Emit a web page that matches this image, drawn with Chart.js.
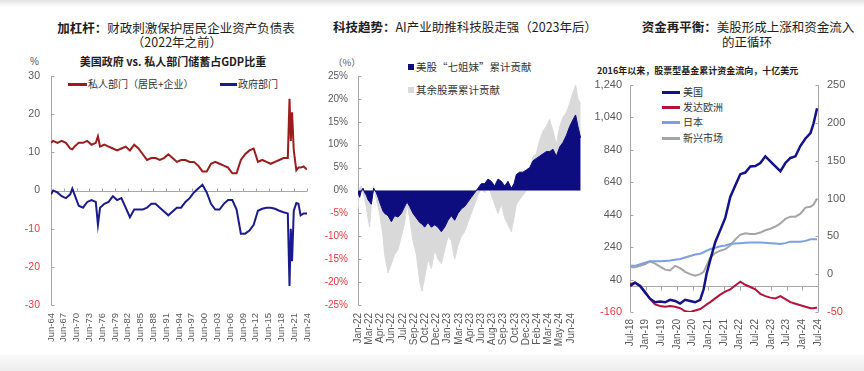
<!DOCTYPE html>
<html><head><meta charset="utf-8">
<script src="https://cdn.jsdelivr.net/npm/chart.js@4.4.1/dist/chart.umd.min.js"></script>
<style>
html,body{margin:0;padding:0;background:#fff;width:864px;height:371px;overflow:hidden;position:relative;font-family:"Liberation Sans","Noto Sans CJK SC",sans-serif;}
.topband{position:absolute;left:0;top:0;width:864px;height:7px;background:linear-gradient(#e2e2e2,#ffffff);}
.botband{position:absolute;left:0;top:355px;width:864px;height:16px;background:linear-gradient(#fafafa,#ececec);}
.box{position:absolute;}
.t{position:absolute;font-family:"Noto Sans CJK SC",sans-serif;color:#1e1e1e;white-space:nowrap;font-size:12.5px;line-height:15px;transform:translateX(-50%);}
.t b{font-weight:700;}
.s{position:absolute;font-family:"Noto Sans CJK SC",sans-serif;color:#1e1e1e;white-space:nowrap;font-weight:700;line-height:13px;}
.lg{position:absolute;font-family:"Noto Sans CJK SC",sans-serif;color:#333;white-space:nowrap;font-size:10px;line-height:12px;}
.ln{position:absolute;height:2.5px;}
.sq{position:absolute;width:6px;height:6px;}
.u{position:absolute;font-family:"Liberation Sans",sans-serif;color:#595959;font-size:10px;line-height:12px;white-space:nowrap;}
</style></head>
<body>
<div class="topband"></div>
<div class="botband"></div>

<div class="t" style="left:176px;top:20px;"><b>加杠杆：</b>财政刺激保护居民企业资产负债表</div>
<div class="t" style="left:177px;top:34px;">（2022年之前）</div>
<div class="s" style="left:173px;top:55px;font-size:11px;transform:translateX(-50%);">美国政府 vs. 私人部门储蓄占GDP比重</div>
<div class="u" style="left:30px;top:56px;">%</div>
<div class="ln" style="left:68px;top:83px;width:19px;background:#9b1c1c;"></div>
<div class="lg" style="left:88px;top:78px;">私人部门（居民+企业）</div>
<div class="ln" style="left:220px;top:83px;width:17px;background:#1a1a8f;"></div>
<div class="lg" style="left:238px;top:78px;">政府部门</div>

<div class="t" style="left:465px;top:19px;"><b>科技趋势：</b>AI产业助推科技股走强（2023年后）</div>
<div class="u" style="left:333px;top:56px;font-family:'Noto Sans CJK SC';font-size:9.5px;">（%）</div>
<div class="sq" style="left:408px;top:64px;background:#0d0d80;"></div>
<div class="lg" style="left:416px;top:61px;font-size:10.5px;">美股“七姐妹”累计贡献</div>
<div class="sq" style="left:408px;top:87px;background:#d9d9d9;"></div>
<div class="lg" style="left:416px;top:84px;font-size:10.5px;">其余股票累计贡献</div>

<div class="t" style="left:748px;top:19px;"><b>资金再平衡：</b>美股形成上涨和资金流入</div>
<div class="t" style="left:747px;top:34px;">的正循环</div>
<div class="s" style="left:597px;top:64px;font-size:9px;">2016年以来，股票型基金累计资金流向，十亿美元</div>
<div class="ln" style="left:662px;top:91px;width:18px;background:#12128a;"></div>
<div class="lg" style="left:683px;top:86px;">美国</div>
<div class="ln" style="left:662px;top:106px;width:18px;background:#b5123b;"></div>
<div class="lg" style="left:683px;top:101px;">发达欧洲</div>
<div class="ln" style="left:662px;top:121px;width:18px;background:#7b9fe0;"></div>
<div class="lg" style="left:683px;top:116px;">日本</div>
<div class="ln" style="left:662px;top:137px;width:18px;background:#a5a5a5;"></div>
<div class="lg" style="left:683px;top:132px;">新兴市场</div>

<div class="box" style="left:0px;top:70px;width:312px;height:280px;"><canvas id="c1" width="312" height="280"></canvas></div>
<div class="box" style="left:310px;top:70px;width:280px;height:280px;"><canvas id="c2" width="280" height="280"></canvas></div>
<div class="box" style="left:590px;top:78px;width:274px;height:272px;"><canvas id="c3" width="274" height="272"></canvas></div>

<script>
// ---------- Panel 1: US government vs private sector savings (% of GDP) ----------
const p1Years = [1964.5,1965,1966,1967,1968,1969,1969.5,1970,1971,1972,1973,1974,1975,1975.5,
  1976,1977,1978,1979,1980,1981,1982,1983,1984,1985,1986,1987,1988,1989,1990,1991,1992,1993,1994,1995,
  1996,1997,1998,1999,2000,2001,2002,2003,2004,2005,2006,2007,2008,2009,2010,2011,2012,2013,2014,2015,
  2016,2017,2018,2019,2020,2020.4,2020.7,2021,2021.4,2022,2022.5,2023,2023.7,2024.5];
const p1Private = [12.5,13,12.5,13,12.5,11,10.8,11.5,12.5,12.5,13,12,12.5,14.2,
  11.5,12,11.5,11,10.5,11,11.5,10.5,12,11,9.5,8,8.5,8.5,8,8.5,9.5,8.5,7.5,8,
  8,7.5,7.5,6.5,5,5,7,7.5,7,6.5,6,4.5,4.5,8,9.5,10.5,11,7.5,8,7.5,
  7,7.5,8,8.5,8.5,24,13,20.5,10.5,5.3,6,6,6.3,5.5];
const p1Gov = [-1,0,-0.5,-1.5,-2,-1,0.5,-1,-4,-4.5,-3,-2.5,-3,-9,
  -4.5,-3.5,-3,-1.5,-2.5,-2,-4.5,-7,-5,-5,-5,-4.5,-3.5,-3.5,-4.5,-5.5,-6.5,-5.5,-4.5,-4.5,
  -3,-2,-0.5,0.5,1.5,-0.5,-3.5,-5,-5,-3.5,-2.5,-2.5,-5,-11.3,-11.3,-10.5,-9,-5.3,-4.8,-4.5,
  -4.5,-4.8,-5.3,-5.7,-6,-25,-10,-18.5,-5.3,-3.3,-3.5,-6.5,-6,-6];
const p1TickYears = [1964.5,1967.5,1970.5,1973.5,1976.5,1979.5,1982.5,1985.5,1988.5,1991.5,1994.5,
  1997.5,2000.5,2003.5,2006.5,2009.5,2012.5,2015.5,2018.5,2021.5,2024.5];
const p1TickLabels = ['Jun-64','Jun-67','Jun-70','Jun-73','Jun-76','Jun-79','Jun-82','Jun-85','Jun-88','Jun-91','Jun-94',
  'Jun-97','Jun-00','Jun-03','Jun-06','Jun-09','Jun-12','Jun-15','Jun-18','Jun-21','Jun-24'];

// ---------- Panel 2: cumulative contribution, Magnificent 7 vs rest (%) ----------
const p2X = [0,0.15,0.30,0.45,0.60,0.74,0.89,1.04,1.19,1.40,1.64,1.79,1.93,2.08,2.23,2.38,2.68,2.98,3.27,3.57,
  3.87,4.17,4.38,4.61,4.91,5.21,5.51,5.71,5.95,6.25,6.55,6.85,7.14,7.44,7.74,8.04,8.33,8.63,8.93,9.23,
  9.52,9.82,10.12,10.42,10.71,11.01,11.31,11.61,11.90,12.20,12.50,12.80,13.10,13.39,13.69,13.93,14.14,14.43,14.73,15.03,
  15.33,15.63,15.92,16.22,16.52,16.82,17.11,17.41,17.71,18.01,18.30,18.60,18.90,19.20,19.43,19.64,19.88];
const p2Mag7 = [-0.5,-1.5,0,0.5,-0.5,-1,-2,-2.5,-3,0.5,-0.5,-1.5,-2.5,-3.5,-4.5,-5,-5.5,-6.8,-5.5,-5.8,
  -5,-3.5,-2.5,-3.5,-5,-6,-7,-7.3,-8,-7,-8,-7.5,-8,-9,-8,-6.5,-5.5,-6.5,-5,-4,
  -3.5,-2.5,-1.5,-0.5,0.5,1.5,1.5,2.5,2,1,2.5,2,1,2,0.5,1.5,3.5,4,4,4.5,
  5,6.5,7,7.5,8,8.5,8.5,9,7.5,9.5,10.5,12,14,15.5,16.5,14,11.5];
const p2Rest = [-4,0.5,1,-0.5,-2,-3.5,-6,-8,-3,1,-2,-3.5,-5,-7.5,-10,-14,-18,-16,-14,-13,
  -10,-7,-3,-6,-11,-14,-20,-22,-19,-15,-17,-13,-15,-16,-13,-10,-11,-15,-12,-10,
  -9,-7,-5,-3,-1,0.5,-0.5,1.5,-1,-3,-5,-3,-6,-7.5,-9,-6,-3,-2,-1,0,
  4,7.5,8,11,13,14,15.5,13,10,14,16,17,19,21.5,23,20,19];
const p2TickLabels = ['Jan-22','Mar-22','Apr-22','Jun-22','Jul-22','Sep-22','Oct-22','Dec-22','Jan-23','Mar-23',
  'Apr-23','Jun-23','Aug-23','Sep-23','Oct-23','Dec-23','Feb-24','Mar-24','May-24','Jun-24'];

// ---------- Panel 3: cumulative equity fund flows, bn USD ----------
const p3Dates = [2018.50,2018.66,2018.82,2018.98,2019.14,2019.30,2019.46,2019.62,2019.78,2019.94,
  2020.10,2020.26,2020.42,2020.58,2020.74,2020.85,2020.95,2021.06,2021.22,2021.38,
  2021.54,2021.70,2021.86,2022.02,2022.18,2022.34,2022.50,2022.66,2022.82,2022.98,
  2023.14,2023.30,2023.46,2023.62,2023.78,2023.94,2024.10,2024.26,2024.36,2024.47];
const p3US = [0,20,0,-40,-78,-100,-95,-100,-85,-92,-108,-85,-92,-100,-85,-20,80,160,270,345,
  420,550,620,690,700,738,740,759,800,769,738,708,759,790,800,865,910,943,1004,1097];
const p3Europe = [-13,-11,-15,-23,-33,-40,-42,-43,-42,-43,-45,-49,-50,-48,-46,-43,-40,-37,-32,-27,
  -23,-20,-15,-10,-14,-17,-20,-26,-29,-31,-32,-29,-33,-37,-39,-41,-43,-45,-45,-44];
const p3Japan = [11,11,13,15,17,17,17,17.5,18,19,20,22,24,26,27,29,31,33,35,37,
  38,40,40.5,41,41.5,42,42,42,41.5,41,40.5,40,41,43,43,43,44,46,46,46];
const p3EM = [9,9,11,13,17,14,10,6,5,11,8,3,0,-2,0,3,12,22,28,31,
  33,38,46,52,54,53,53,55,58,60,63,67,73,76,76,80,88,89,92,100];
const p3TickDates = [2018.5,2019,2019.5,2020,2020.5,2021,2021.5,2022,2022.5,2023,2023.5,2024,2024.5];
const p3TickLabels = ['Jul-18','Jan-19','Jul-19','Jan-20','Jul-20','Jan-21','Jul-21','Jan-22','Jul-22','Jan-23','Jul-23','Jan-24','Jul-24'];
const p3LeftTicks = [-160,40,240,440,640,840,1040,1240];
const p3LeftLabels = ['-160','40','240','440','640','840','1,040','1,240'];

const GREY = '#595959', RED = '#e5393f', AX = '#a6a6a6';
Chart.defaults.font.family = 'Liberation Sans';
Chart.defaults.animation = false;

const axisDeco = {
  id: 'axisDeco',
  beforeDatasetsDraw(chart, args, o) {
    const ctx = chart.ctx, a = chart.chartArea;
    ctx.save(); ctx.lineWidth = 1; ctx.strokeStyle = AX;
    (o.yAxes || []).forEach(id => {
      const s = chart.scales[id];
      const right = s.position === 'right';
      const x = Math.round(right ? a.right : a.left) + 0.5;
      const d = right ? -3 : 3;
      ctx.beginPath(); ctx.moveTo(x, a.top); ctx.lineTo(x, a.bottom);
      s.ticks.forEach(t => { const y = Math.round(s.getPixelForValue(t.value)) + 0.5; ctx.moveTo(x, y); ctx.lineTo(x + d, y); });
      ctx.stroke();
    });
    if (o.zero) {
      const s = chart.scales[o.zero.scale], xs = chart.scales.x;
      const y = Math.round(s.getPixelForValue(0)) + 0.5;
      ctx.beginPath(); ctx.moveTo(a.left, y); ctx.lineTo(a.right, y);
      xs.ticks.forEach(t => { const x = Math.round(xs.getPixelForValue(t.value)) + 0.5; ctx.moveTo(x, y); ctx.lineTo(x, y + o.zero.tick); });
      ctx.stroke();
    }
    ctx.restore();
  }
};

const pts = (xs, ys) => xs.map((x, i) => ({x: x, y: ys[i]}));
const tickColor = c => (c.tick && c.tick.value < 0) ? RED : GREY;
const fitH = h => s => { s.height = h; s.paddingLeft = 0; s.paddingRight = 0; s.paddingTop = 0; s.paddingBottom = 0; };
const fitW = w => s => { s.width = w; s.paddingLeft = 0; s.paddingRight = 0; s.paddingTop = 0; s.paddingBottom = 0; };
const setTicks = arr => s => { s.ticks = arr.map(v => ({value: v})); };

// Panel 1
new Chart(document.getElementById('c1'), {
  type: 'line',
  data: { datasets: [
    { label: '私人部门（居民+企业）', data: pts(p1Years, p1Private), borderColor: '#9b1c1c', borderWidth: 2, pointRadius: 0, tension: 0, fill: false },
    { label: '政府部门', data: pts(p1Years, p1Gov), borderColor: '#1a1a8f', borderWidth: 2, pointRadius: 0, tension: 0, fill: false }
  ]},
  options: {
    responsive: false, devicePixelRatio: 1,
    layout: { padding: { left: 0, right: 5, top: 6, bottom: 0 } },
    plugins: { legend: { display: false }, tooltip: { enabled: false }, axisDeco: { yAxes: ['y'], zero: { scale: 'y', tick: -3 } } },
    scales: {
      x: { type: 'linear', min: 1964.5, max: 2024.5,
        afterBuildTicks: setTicks(p1TickYears), afterFit: fitH(45),
        grid: { display: false, drawTicks: false }, border: { display: false },
        ticks: { autoSkip: false, minRotation: 90, maxRotation: 90, padding: 8, color: GREY, font: { size: 9.5 },
          callback: (v, i) => p1TickLabels[i] } },
      y: { min: -30, max: 30,
        afterBuildTicks: setTicks([-30,-20,-10,0,10,20,30]), afterFit: fitW(51),
        grid: { display: false, drawTicks: false }, border: { display: false },
        ticks: { padding: 11, color: tickColor, font: { size: 10.5 } } }
    }
  },
  plugins: [axisDeco]
});

// Panel 2
new Chart(document.getElementById('c2'), {
  type: 'line',
  data: { datasets: [
    { label: '美股“七姐妹”累计贡献', data: pts(p2X, p2Mag7), borderColor: '#0d0d80', backgroundColor: '#0d0d80', borderWidth: 1, pointRadius: 0, tension: 0, fill: 'origin' },
    { label: '其余股票累计贡献', data: pts(p2X, p2Rest), borderColor: '#d9d9d9', backgroundColor: '#d9d9d9', borderWidth: 1, pointRadius: 0, tension: 0, fill: 'origin' }
  ]},
  options: {
    responsive: false, devicePixelRatio: 1,
    layout: { padding: { left: 0, right: 8, top: 6, bottom: 0 } },
    plugins: { legend: { display: false }, tooltip: { enabled: false }, axisDeco: { yAxes: ['y'] } },
    scales: {
      x: { type: 'linear', min: 0, max: 20,
        afterBuildTicks: setTicks(p2TickLabels.map((l, i) => i)), afterFit: fitH(45),
        grid: { display: false, drawTicks: false }, border: { display: false },
        ticks: { autoSkip: false, minRotation: 90, maxRotation: 90, padding: 8, color: GREY, font: { size: 10 },
          callback: (v, i) => p2TickLabels[i] } },
      y: { min: -25, max: 25,
        afterBuildTicks: setTicks([-25,-20,-15,-10,-5,0,5,10,15,20,25]), afterFit: fitW(48),
        grid: { display: false, drawTicks: false }, border: { display: false },
        ticks: { padding: 10, color: tickColor, font: { size: 10 }, callback: v => v + '%' } }
    }
  },
  plugins: [axisDeco]
});

// Panel 3
new Chart(document.getElementById('c3'), {
  type: 'line',
  data: { datasets: [
    { label: '美国', data: pts(p3Dates, p3US), yAxisID: 'y', borderColor: '#12128a', borderWidth: 2.5, pointRadius: 0, tension: 0 },
    { label: '发达欧洲', data: pts(p3Dates, p3Europe), yAxisID: 'y2', borderColor: '#b5123b', borderWidth: 2, pointRadius: 0, tension: 0 },
    { label: '日本', data: pts(p3Dates, p3Japan), yAxisID: 'y2', borderColor: '#7b9fe0', borderWidth: 2, pointRadius: 0, tension: 0 },
    { label: '新兴市场', data: pts(p3Dates, p3EM), yAxisID: 'y2', borderColor: '#a5a5a5', borderWidth: 2, pointRadius: 0, tension: 0 }
  ]},
  options: {
    responsive: false, devicePixelRatio: 1,
    layout: { padding: { left: 0, right: 0, top: 7, bottom: 0 } },
    plugins: { legend: { display: false }, tooltip: { enabled: false }, axisDeco: { yAxes: ['y','y2'], zero: { scale: 'y', tick: 4 } } },
    scales: {
      x: { type: 'linear', min: 2018.5, max: 2024.5,
        afterBuildTicks: setTicks(p3TickDates), afterFit: fitH(38),
        grid: { display: false, drawTicks: false }, border: { display: false },
        ticks: { autoSkip: false, minRotation: 90, maxRotation: 90, padding: 7, color: GREY, font: { size: 10 },
          callback: (v, i) => p3TickLabels[i] } },
      y: { position: 'left', min: -160, max: 1240,
        afterBuildTicks: setTicks(p3LeftTicks), afterFit: fitW(40),
        grid: { display: false, drawTicks: false }, border: { display: false },
        ticks: { padding: 8, color: tickColor, font: { size: 11 }, callback: (v, i) => p3LeftLabels[i] } },
      y2: { position: 'right', min: -50, max: 250,
        afterBuildTicks: setTicks([-50,0,50,100,150,200,250]), afterFit: fitW(46),
        grid: { display: false, drawTicks: false }, border: { display: false },
        ticks: { padding: 9, color: tickColor, font: { size: 11 } } }
    }
  },
  plugins: [axisDeco]
});
</script>
</body></html>
